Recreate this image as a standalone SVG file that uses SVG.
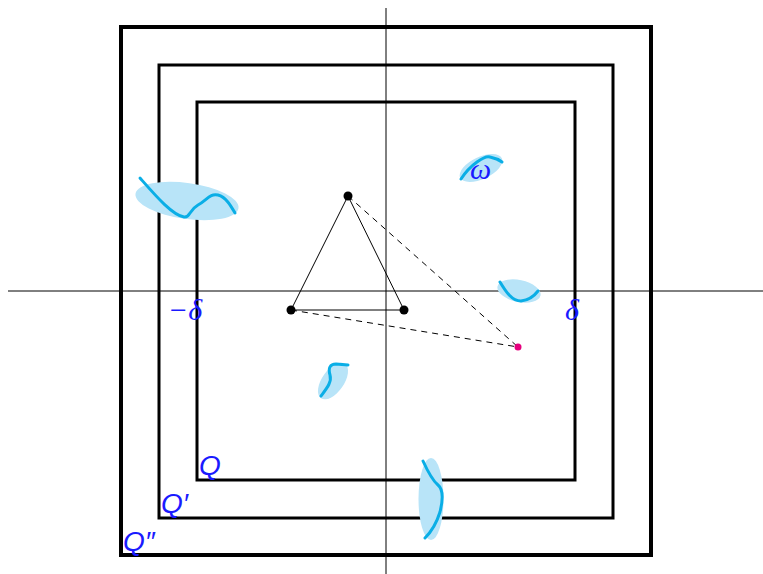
<svg xmlns="http://www.w3.org/2000/svg" width="763" height="574" viewBox="0 0 763 574">
<style>
.sq{fill:none;stroke:#000}
.ax{stroke:#000;stroke-width:1}
.blob{fill:#b8e4f8;stroke:none}
.cur{fill:none;stroke:#0aaee6;stroke-width:3;stroke-linecap:round;stroke-linejoin:round}
.lbl{font-family:"Liberation Serif",serif;font-style:italic;fill:#1a1aff}
.lbs{font-family:"Liberation Sans",sans-serif;font-style:italic;fill:#1a1aff}
.dot{fill:#000}
.dash{stroke:#000;stroke-width:1;stroke-dasharray:6,5;fill:none}
</style>
<g id="axes">
<line class="ax" x1="8" y1="291" x2="763" y2="291"/>
<line class="ax" x1="386" y1="8" x2="386" y2="574" stroke="#555"/>
</g>
<g id="squares">
<rect id="Qpp" class="sq" x="121" y="27" width="530" height="528" stroke-width="4"/>
<rect id="Qp" class="sq" x="159" y="65" width="454" height="453" stroke-width="3"/>
<rect id="Q" class="sq" x="197" y="102" width="378" height="378" stroke-width="3"/>
</g>
<g id="blobs">
<g id="blob1">
<ellipse class="blob" cx="187" cy="201" rx="52" ry="18" transform="rotate(8 187 201)"/>
<path class="cur" d="M140,178 C155,195 172,215 184,217 C190,218 189,210 198,205 C207,200 210,193 218,195 C226,197 231,206 235,213"/>
</g>
<g id="blob2">
<ellipse class="blob" cx="481" cy="168" rx="23" ry="11" transform="rotate(-25 481 168)"/>
<path class="cur" d="M461,179 C470,165 485,155 490,157 C495,158 498,159 502,162"/>
<text class="lbl" x="470" y="179" font-size="30">ω</text>
</g>
<g id="blob3">
<ellipse class="blob" cx="519" cy="291" rx="22" ry="11" transform="rotate(12 519 291)"/>
<path class="cur" d="M500,282 C506,292 512,301 521,301 C530,300 535,295 538,291"/>
</g>
<g id="blob4">
<ellipse class="blob" cx="431" cy="499" rx="12.5" ry="41"/>
<path class="cur" d="M423,461 C428,472 432,480 438,485 C444,490 443,500 440,512 C436,525 430,533 425,538"/>
</g>
<g id="blob5">
<ellipse class="blob" cx="333" cy="381" rx="11" ry="21" transform="rotate(35 333 381)"/>
<path class="cur" d="M321,396 C327,388 332,382 330,375 C328,368 330,364 336,364 L348,365"/>
</g>
</g>
<g id="connectors">
<line x1="291" y1="310" x2="404" y2="310" stroke="#000" stroke-width="1"/>
<line x1="291" y1="310" x2="348" y2="196" stroke="#000" stroke-width="1"/>
<line x1="404" y1="310" x2="348" y2="196" stroke="#000" stroke-width="1"/>
<line class="dash" x1="348" y1="196" x2="518" y2="347"/>
<line class="dash" x1="291" y1="310" x2="518" y2="347"/>
</g>
<g id="points">
<circle class="dot" cx="348" cy="196" r="4.5"/>
<circle class="dot" cx="291" cy="310" r="4.5"/>
<circle class="dot" cx="404" cy="310" r="4.5"/>
<circle cx="518" cy="347" r="3.5" fill="#e6007e"/>
</g>
<g id="labels">
<text class="lbl" x="168" y="320" font-size="30">−δ</text>
<text class="lbl" x="565" y="320" font-size="30">δ</text>
<text class="lbs" x="199" y="475" font-size="28">Q</text>
<text class="lbs" x="161" y="513" font-size="28">Q′</text>
<text class="lbs" x="123" y="551" font-size="28">Q″</text>
</g>
</svg>
